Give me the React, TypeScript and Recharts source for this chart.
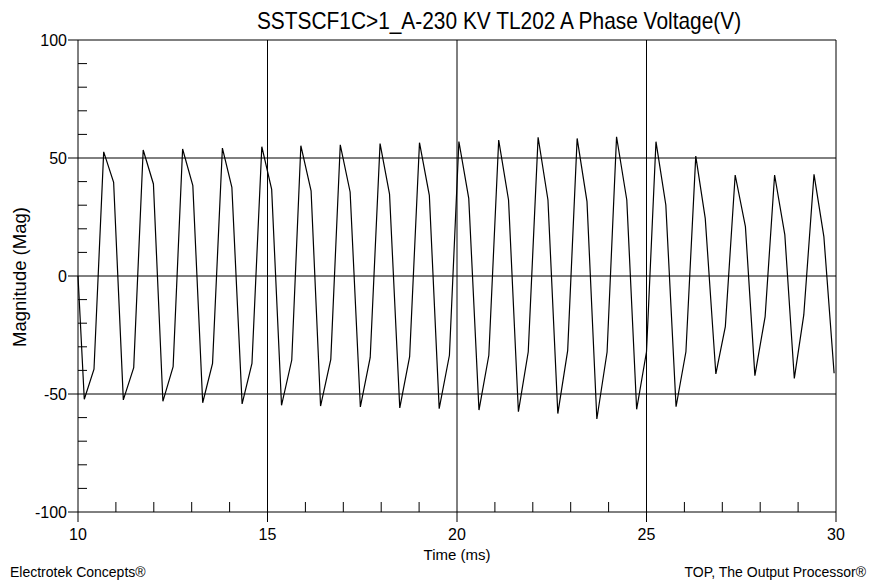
import React from 'react';
import { LineChart, Line, XAxis, YAxis, ReferenceLine } from 'recharts';

const times = [
  10.0,
  10.166, 10.422, 10.678, 10.94,
  11.196, 11.47, 11.72, 11.99,
  12.24, 12.51, 12.76, 13.03,
  13.29, 13.55, 13.81, 14.06,
  14.33, 14.59, 14.85, 15.11,
  15.37, 15.64, 15.88, 16.15,
  16.4, 16.67, 16.92, 17.18,
  17.45, 17.71, 17.97, 18.22,
  18.49, 18.75, 19.01, 19.27,
  19.53, 19.8, 20.05, 20.31,
  20.58, 20.84, 21.1, 21.36,
  21.62, 21.88, 22.14, 22.4,
  22.66, 22.92, 23.17, 23.43,
  23.69, 23.96, 24.21, 24.48,
  24.74, 25.0, 25.25, 25.51,
  25.78, 26.04, 26.3, 26.55,
  26.83, 27.08, 27.34, 27.61,
  27.86, 28.13, 28.38, 28.65,
  28.9, 29.15, 29.42, 29.68,
  29.95,
];

const voltage = [
  0,
  -52.2, -39.5, 52.6, 39.7,
  -52.5, -38.8, 53.4, 39.0,
  -53.1, -38.4, 53.8, 38.3,
  -53.7, -37.0, 54.2, 37.6,
  -54.2, -37.0, 54.8, 36.7,
  -54.8, -35.6, 55.2, 36.1,
  -55.1, -35.3, 55.6, 35.6,
  -55.5, -34.5, 56.1, 34.7,
  -55.9, -34.2, 56.5, 34.2,
  -56.2, -33.6, 57.0, 32.9,
  -56.8, -33.6, 57.6, 32.2,
  -57.5, -32.1, 58.8, 32.2,
  -58.3, -31.6, 58.3, 31.5,
  -60.6, -32.2, 59.0, 32.2,
  -56.5, -32.1, 56.9, 30.1,
  -55.4, -32.1, 50.8, 24.4,
  -41.5, -21.5, 42.8, 20.9,
  -42.2, -17.2, 42.8, 17.4,
  -43.4, -16.5, 43.1, 16.7,
  -41.2,
];

const xTicks = [10, 11, 12, 13, 14, 15, 16, 17, 18, 19, 20, 21, 22, 23, 24, 25, 26, 27, 28, 29, 30];
const xMajor = [10, 15, 20, 25, 30];
const xGrid = [15, 20, 25, 30];

const yTicks = [-100, -90, -80, -70, -60, -50, -40, -30, -20, -10, 0, 10, 20, 30, 40, 50, 60, 70, 80, 90, 100];
const yMajor = [-100, -50, 0, 50, 100];
const yGrid = [-50, 0, 50, 100];

const FONT = '"Liberation Sans", Arial, sans-serif';

const data = times.map((t, i) => ({ t, v: voltage[i] }));

function XTick(props: any) {
  const { x, y, payload } = props;
  const major = xMajor.includes(payload.value);
  if (!major) return <line x1={x} x2={x} y1={y} y2={y - 10} stroke="#000" />;
  return (
    <g>
      <line x1={x} x2={x} y1={y} y2={y + 10} stroke="#000" />
      <text x={x} y={y + 28} textAnchor="middle" fontSize={16} fontFamily={FONT} fill="#000">
        {payload.value}
      </text>
    </g>
  );
}

function YTick(props: any) {
  const { x, y, payload } = props;
  const major = yMajor.includes(payload.value);
  if (!major) return <line x1={x} x2={x + 9} y1={y} y2={y} stroke="#000" />;
  return (
    <g>
      <line x1={x - 10} x2={x} y1={y} y2={y} stroke="#000" />
      <text x={x - 11} y={y + 6} textAnchor="end" fontSize={16} fontFamily={FONT} fill="#000">
        {payload.value}
      </text>
    </g>
  );
}

export default function App() {
  return (
    <div style={{ position: 'absolute', left: 0, top: 0, width: 876, height: 581, background: '#fff', fontFamily: FONT, color: '#000' }}>
      <LineChart width={876} height={581} data={data} margin={{ top: 40, right: 40, bottom: 0, left: 0 }}>
        <XAxis
          dataKey="t"
          type="number"
          domain={[10, 30]}
          ticks={xTicks}
          interval={0}
          height={69}
          tickSize={0}
          tickMargin={0}
          tick={<XTick />}
          axisLine={{ stroke: '#000' }}
          label={{ value: 'Time (ms)', position: 'insideBottom', offset: 21, fontSize: 15, fill: '#000', fontFamily: FONT }}
        />
        <YAxis
          type="number"
          domain={[-100, 100]}
          ticks={yTicks}
          interval={0}
          width={78}
          tickSize={0}
          tickMargin={0}
          tick={<YTick />}
          axisLine={{ stroke: '#000' }}
        />
        {yGrid.map((v) => (
          <ReferenceLine key={'y' + v} y={v} stroke="#000" />
        ))}
        {xGrid.map((v) => (
          <ReferenceLine key={'x' + v} x={v} stroke="#000" />
        ))}
        <Line type="linear" dataKey="v" stroke="#000" strokeWidth={1.2} dot={false} isAnimationActive={false} />
      </LineChart>
      <div
        style={{
          position: 'absolute',
          left: 499,
          top: 21,
          fontSize: 24,
          transform: 'translate(-50%, -50%) scaleX(0.87)',
          whiteSpace: 'nowrap',
        }}
      >
        SSTSCF1C&gt;1_A-230 KV TL202 A Phase Voltage(V)
      </div>
      <div
        style={{
          position: 'absolute',
          left: 20,
          top: 277,
          fontSize: 18.5,
          transform: 'translate(-50%, -50%) rotate(-90deg)',
          whiteSpace: 'nowrap',
        }}
      >
        Magnitude (Mag)
      </div>
      <div style={{ position: 'absolute', left: 10, top: 564, fontSize: 14 }}>Electrotek Concepts®</div>
      <div style={{ position: 'absolute', right: 10, top: 564, fontSize: 14 }}>TOP, The Output Processor®</div>
    </div>
  );
}
